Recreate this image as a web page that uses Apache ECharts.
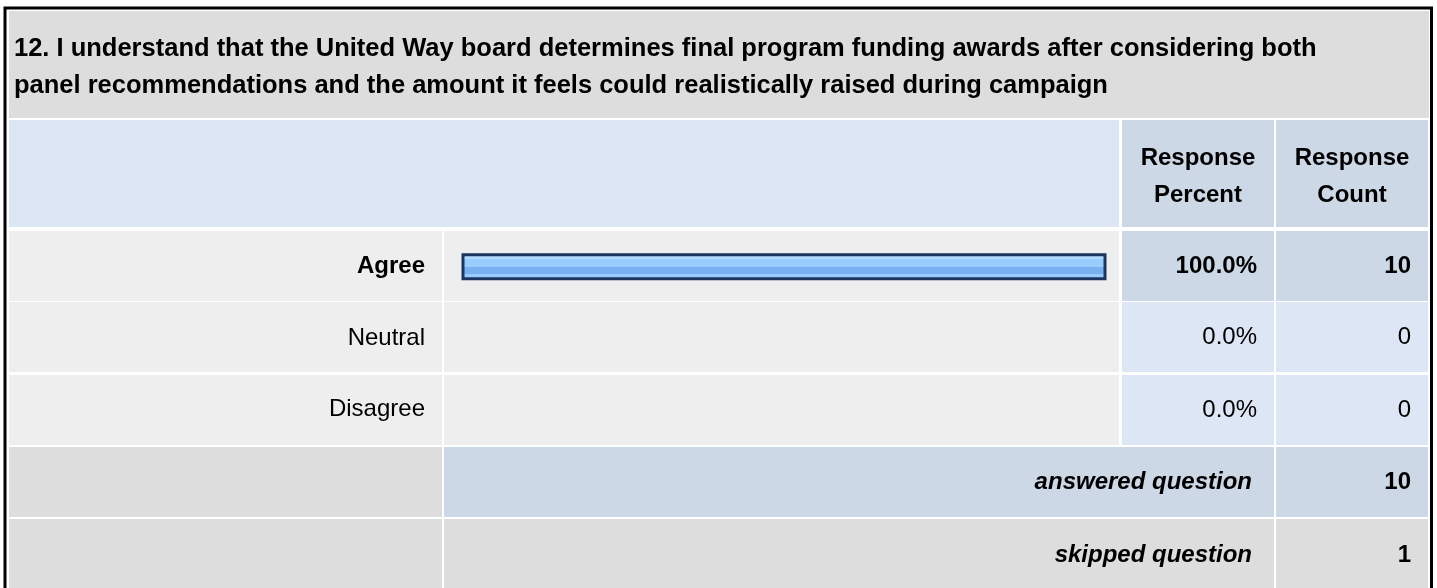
<!DOCTYPE html>
<html>
<head>
<meta charset="utf-8">
<style>
  html, body { margin: 0; padding: 0; background: #fff; }
  #chart { width: 1437px; height: 588px; }
</style>
<script src="https://cdn.jsdelivr.net/npm/echarts@6/dist/echarts.min.js"></script>
</head>
<body>
<div id="chart"></div>
<script>
// data
const questionLines = [
  '12. I understand that the United Way board determines final program funding awards after considering both',
  'panel recommendations and the amount it feels could realistically raised during campaign'
]
const categories = ['Agree', 'Neutral', 'Disagree']
const percents = [100.0, 0.0, 0.0]
const counts = [10, 0, 0]
const answeredCount = 10
const skippedCount = 1

// layout of the table cells
const FONT = "'Liberation Sans', Arial, sans-serif"
const colX = { label: [9, 442], bar: [444, 1119], pct: [1122, 1274], cnt: [1276, 1428] }
const rowY = [[231, 301], [302, 372], [375, 445]]
const answeredY = [447, 517]
const skippedY = [519, 592]

const chart = echarts.init(document.getElementById('chart'))

const rect = (x0, x1, y0, y1, fill) => ({
  type: 'rect', z: 0, silent: true,
  shape: { x: x0, y: y0, width: x1 - x0, height: y1 - y0 },
  style: { fill }
})
const text = (t, x, y, opts = {}) => ({
  type: 'text', z: 5, silent: true,
  style: Object.assign({
    text: t, x, y, fill: '#000', fontSize: 24, fontFamily: FONT,
    align: 'right', verticalAlign: 'middle'
  }, opts)
})

const maxPct = Math.max(...percents)
const graphics = []

// title + header
graphics.push(rect(9, 1429, 11, 118, '#dddddd'))
graphics.push(rect(9, 1119, 120, 227, '#dce6f4'))
graphics.push(rect(colX.pct[0], colX.pct[1], 120, 227, '#ccd8e6'))
graphics.push(rect(colX.cnt[0], colX.cnt[1], 120, 227, '#ccd8e6'))
graphics.push(text('Response\nPercent', 1198, 177, { align: 'center', fontWeight: 'bold', lineHeight: 37 }))
graphics.push(text('Response\nCount', 1352, 177, { align: 'center', fontWeight: 'bold', lineHeight: 37 }))

// answer rows
categories.forEach((c, i) => {
  const [y0, y1] = rowY[i]
  const top = percents[i] === maxPct
  const cellFill = top ? '#ccd8e6' : '#dce6f4'
  graphics.push(rect(colX.label[0], colX.label[1], y0, y1, '#eeeeee'))
  graphics.push(rect(colX.bar[0], colX.bar[1], y0, y1, '#eeeeee'))
  graphics.push(rect(colX.pct[0], colX.pct[1], y0, y1, cellFill))
  graphics.push(rect(colX.cnt[0], colX.cnt[1], y0, y1, cellFill))
  const w = top ? 'bold' : 'normal'
  const yc = (y0 + y1) / 2
  graphics.push(text(percents[i].toFixed(1) + '%', 1257, yc, { fontWeight: w }))
  graphics.push(text(String(counts[i]), 1411, yc, { fontWeight: w }))
})

// answered / skipped
graphics.push(rect(colX.label[0], colX.label[1], answeredY[0], answeredY[1], '#dddddd'))
graphics.push(rect(colX.bar[0], colX.pct[1], answeredY[0], answeredY[1], '#ccd8e6'))
graphics.push(rect(colX.cnt[0], colX.cnt[1], answeredY[0], answeredY[1], '#ccd8e6'))
graphics.push(rect(colX.label[0], colX.label[1], skippedY[0], skippedY[1], '#dddddd'))
graphics.push(rect(colX.bar[0], colX.pct[1], skippedY[0], skippedY[1], '#dddddd'))
graphics.push(rect(colX.cnt[0], colX.cnt[1], skippedY[0], skippedY[1], '#dddddd'))
graphics.push(text('answered question', 1252, 482, { fontWeight: 'bold', fontStyle: 'italic' }))
graphics.push(text(String(answeredCount), 1411, 482, { fontWeight: 'bold' }))
graphics.push(text('skipped question', 1252, 555, { fontWeight: 'bold', fontStyle: 'italic' }))
graphics.push(text(String(skippedCount), 1411, 555, { fontWeight: 'bold' }))

// outer frame
graphics.push({
  type: 'rect', z: 10, silent: true,
  shape: { x: 5, y: 8, width: 1426.5, height: 600 },
  style: { fill: null, stroke: '#000', lineWidth: 3 }
})

const barFill = new echarts.graphic.LinearGradient(0, 0, 0, 1, [
  { offset: 0, color: '#d6ebff' },
  { offset: 0.12, color: '#d6ebff' },
  { offset: 0.12, color: '#b5daff' },
  { offset: 0.22, color: '#b5daff' },
  { offset: 0.22, color: '#99ccff' },
  { offset: 0.52, color: '#99ccff' },
  { offset: 0.52, color: '#79b1f0' },
  { offset: 0.76, color: '#79b1f0' },
  { offset: 0.76, color: '#99ccff' },
  { offset: 1, color: '#99ccff' }
])

const option = {
  animation: false,
  title: {
    text: questionLines.join('\n'),
    left: 14,
    top: 30,
    padding: 0,
    textStyle: { fontSize: 25.5, fontWeight: 'bold', fontFamily: FONT, color: '#000', lineHeight: 37 }
  },
  grid: { left: 461.5, top: 231, width: 645, height: 214, containLabel: false },
  xAxis: { type: 'value', min: 0, max: 100, show: false },
  yAxis: {
    type: 'category',
    data: categories,
    inverse: true,
    z: 5,
    axisLine: { show: false },
    axisTick: { show: false },
    splitLine: { show: false },
    axisLabel: {
      margin: 36.5,
      formatter: (v, i) => percents[i] === maxPct ? `{b|${v}}` : `{n|${v}}`,
      rich: {
        b: { fontSize: 24, fontWeight: 'bold', fontFamily: FONT, color: '#000' },
        n: { fontSize: 24, fontFamily: FONT, color: '#000' }
      }
    }
  },
  graphic: { elements: graphics },
  series: [{
    type: 'bar',
    barWidth: 27,
    data: percents.map(v => ({ value: v, itemStyle: v > 0 ? {} : { borderWidth: 0, opacity: 0 } })),
    itemStyle: { color: barFill, borderColor: '#1c355e', borderWidth: 3 },
    emphasis: { disabled: true }
  }]
}

chart.setOption(option)
</script>
</body>
</html>
